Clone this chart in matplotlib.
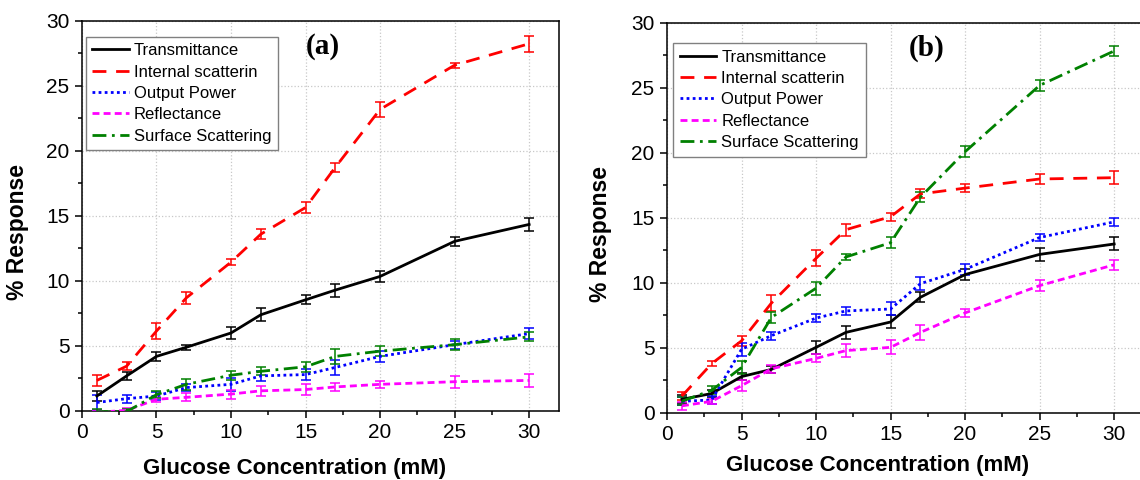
import matplotlib
matplotlib.use("Agg")
import matplotlib.pyplot as plt
from matplotlib.ticker import MultipleLocator

plt.rcParams.update({
    "font.family": ["Liberation Sans", "DejaVu Sans"],
    "font.size": 14,
})

# ── Data ───────────────────────────────────────────────────────────────────
glucose = [1, 3, 5, 7, 10, 12, 15, 17, 20, 25, 30]

labels = ["Transmittance", "Internal scatterin", "Output Power",
          "Reflectance", "Surface Scattering"]

# panel (a)
a_trans = [1.15, 2.7, 4.2, 4.9, 6.0, 7.4, 8.55, 9.3, 10.35, 13.05, 14.35]
a_trans_err = [0.4, 0.3, 0.35, 0.2, 0.45, 0.5, 0.35, 0.5, 0.4, 0.35, 0.5]
a_internal = [2.35, 3.45, 6.15, 8.7, 11.45, 13.6, 15.65, 18.75, 23.2, 26.6, 28.25]
a_internal_err = [0.4, 0.3, 0.6, 0.45, 0.25, 0.4, 0.4, 0.35, 0.6, 0.2, 0.6]
a_power = [0.65, 0.95, 1.15, 1.8, 2.05, 2.7, 2.8, 3.35, 4.2, 5.1, 5.95]
a_power_err = [0.6, 0.3, 0.3, 0.3, 0.5, 0.4, 0.45, 0.6, 0.4, 0.3, 0.4]
a_refl = [-0.1, 0.05, 0.9, 1.05, 1.3, 1.55, 1.65, 1.85, 2.05, 2.25, 2.35]
a_refl_err = [0.2, 0.2, 0.2, 0.3, 0.35, 0.4, 0.45, 0.3, 0.25, 0.45, 0.5]
a_surface = [-0.05, -0.05, 1.25, 2.05, 2.75, 3.05, 3.4, 4.2, 4.6, 5.1, 5.7]
a_surface_err = [0.2, 0.2, 0.25, 0.4, 0.35, 0.3, 0.4, 0.6, 0.4, 0.4, 0.35]

# panel (b)
b_trans = [1.05, 1.5, 2.8, 3.35, 5.05, 6.2, 7.0, 8.9, 10.65, 12.2, 13.0]
b_trans_err = [0.3, 0.3, 0.3, 0.3, 0.5, 0.5, 0.5, 0.4, 0.4, 0.5, 0.5]
b_internal = [1.3, 3.8, 5.55, 8.45, 11.9, 14.1, 15.1, 16.85, 17.3, 18.0, 18.1]
b_internal_err = [0.3, 0.2, 0.4, 0.6, 0.6, 0.45, 0.3, 0.35, 0.3, 0.4, 0.5]
b_power = [0.9, 1.0, 4.9, 5.95, 7.3, 7.85, 8.0, 9.95, 11.05, 13.5, 14.7]
b_power_err = [0.3, 0.3, 0.5, 0.3, 0.3, 0.3, 0.5, 0.5, 0.4, 0.3, 0.3]
b_refl = [0.55, 0.9, 2.1, 3.4, 4.2, 4.8, 5.05, 6.2, 7.7, 9.8, 11.4]
b_refl_err = [0.3, 0.2, 0.4, 0.3, 0.3, 0.5, 0.55, 0.55, 0.3, 0.45, 0.4]
b_surface = [0.9, 1.75, 3.5, 7.35, 9.6, 12.0, 13.1, 16.6, 20.1, 25.2, 27.85]
b_surface_err = [0.3, 0.3, 0.5, 0.4, 0.5, 0.25, 0.4, 0.4, 0.4, 0.4, 0.4]

# ── Style ──────────────────────────────────────────────────────────────────
STYLES = [
    dict(color="black", linestyle="-"),
    dict(color="#ff0000", dashes=(5, 3.5)),
    dict(color="#0000ff", dashes=(1, 1.2)),
    dict(color="#ff00ff", dashes=(2.5, 1.5)),
    dict(color="#008000", dashes=(5, 2, 1, 2)),
]


def draw_panel(ax, series, errors, tag, tag_x, legend_anchor):
    for y, err, lab, st in zip(series, errors, labels, STYLES):
        ax.errorbar(glucose, y, yerr=err, fmt="none", ecolor=st["color"],
                    elinewidth=1.1, capsize=3.5, capthick=1.1, zorder=3)
        ax.plot(glucose, y, label=lab, linewidth=2, zorder=4, **st)

    ax.set_xlim(0, 32)
    ax.set_ylim(0, 30)
    ax.xaxis.set_major_locator(MultipleLocator(5))
    ax.xaxis.set_minor_locator(MultipleLocator(2.5))
    ax.yaxis.set_major_locator(MultipleLocator(5))
    ax.yaxis.set_minor_locator(MultipleLocator(2.5))
    ax.tick_params(which="major", direction="out", length=5, width=1.1,
                   labelsize=15, pad=4, top=False, right=False)
    ax.tick_params(which="minor", direction="out", length=3, width=1.1,
                   top=False, right=False)
    ax.grid(True, which="major", linestyle=":", color="#c8c8c8", linewidth=0.9)
    ax.set_axisbelow(True)
    for sp in ax.spines.values():
        sp.set_linewidth(1.1)

    ax.set_xlabel("Glucose Concentration (mM)", fontsize=16, fontweight="bold")
    ax.set_ylabel("% Response", fontsize=16.5, fontweight="bold")

    ax.text(tag_x, 0.935, tag, transform=ax.transAxes, fontsize=21,
            fontweight="bold", family=["Liberation Serif", "DejaVu Serif"],
            ha="center", va="center")

    leg = ax.legend(loc="upper left", bbox_to_anchor=legend_anchor,
                    borderaxespad=0, fontsize=12, handlelength=2.2,
                    handletextpad=0.3, labelspacing=0.38, borderpad=0.4,
                    fancybox=False, framealpha=1, edgecolor="#808080")
    leg.get_frame().set_linewidth(1.0)


fig = plt.figure(figsize=(11.4, 4.8), dpi=100)
ax_a = fig.add_axes([0.0719, 0.1438, 0.4184, 0.8125])
ax_b = fig.add_axes([0.5851, 0.1396, 0.4184, 0.8125])

draw_panel(ax_a,
           [a_trans, a_internal, a_power, a_refl, a_surface],
           [a_trans_err, a_internal_err, a_power_err, a_refl_err, a_surface_err],
           "(a)", 0.505, (0.008, 0.96))
ax_a.xaxis.set_label_coords(0.445, -0.12)
ax_a.yaxis.set_label_coords(-0.11, 0.46)

draw_panel(ax_b,
           [b_trans, b_internal, b_power, b_refl, b_surface],
           [b_trans_err, b_internal_err, b_power_err, b_refl_err, b_surface_err],
           "(b)", 0.545, (0.0126, 0.949))
ax_b.xaxis.set_label_coords(0.441, -0.108)
ax_b.yaxis.set_label_coords(-0.116, 0.46)

fig.savefig("out.png", dpi=100)
